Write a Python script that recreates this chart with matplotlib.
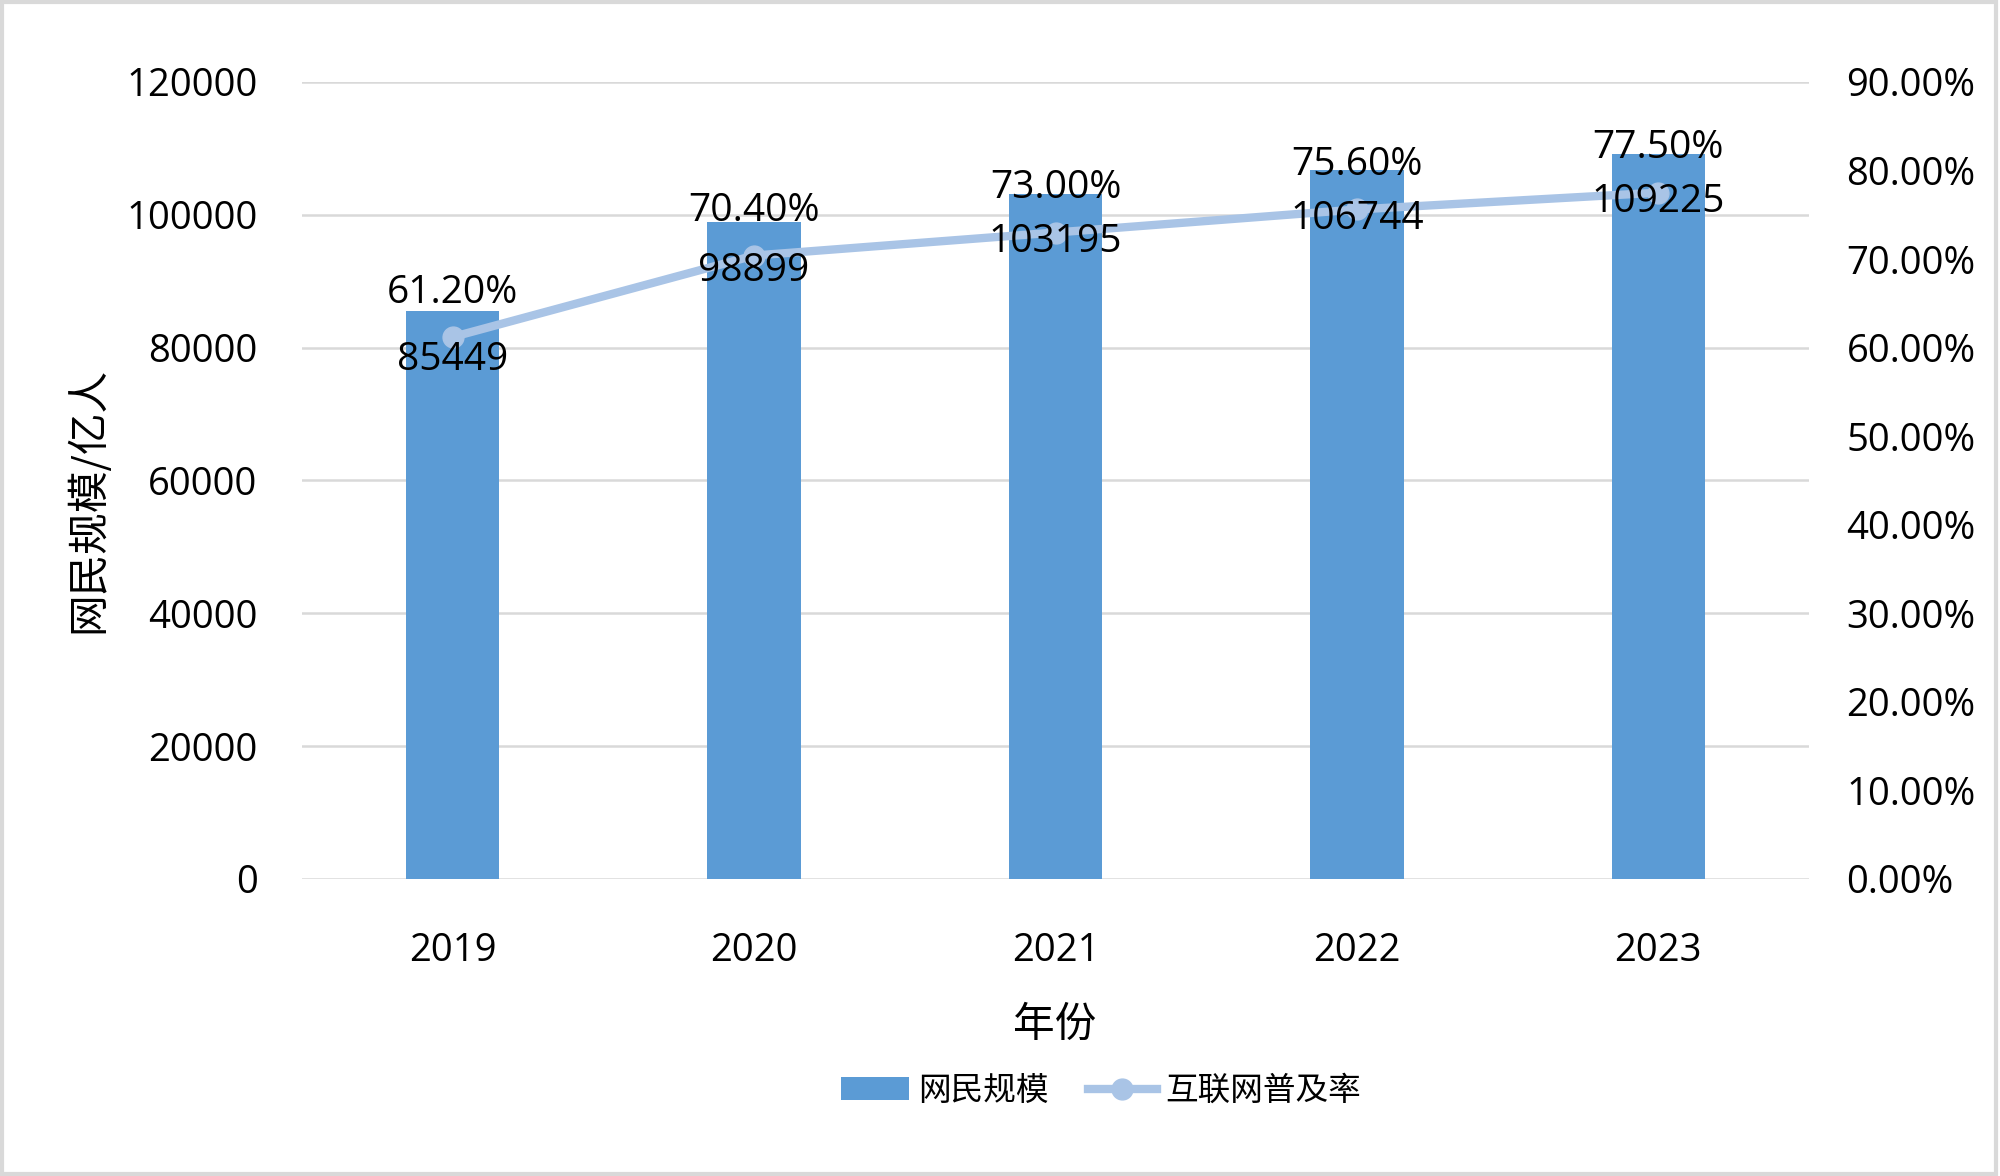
import matplotlib
matplotlib.use('Agg')
import matplotlib.pyplot as plt
from matplotlib.patches import Patch, Rectangle
from matplotlib.lines import Line2D
from matplotlib.ticker import FuncFormatter

plt.rcParams['font.family'] = ['Open Sans', 'Noto Sans CJK SC', 'DejaVu Sans']

years = ['2019', '2020', '2021', '2022', '2023']
netizens = [85449, 98899, 103195, 106744, 109225]
penetration = [0.612, 0.704, 0.730, 0.756, 0.775]

BAR = '#5b9bd5'
LINE = '#a9c4e6'
GRID = '#d9d9d9'
CJK = ['Noto Sans CJK SC', 'DejaVu Sans']

fig = plt.figure(figsize=(20, 11.76), dpi=100)
ax = fig.add_axes([0.151, 0.2526, 0.7535, 0.6777])
ax2 = ax.twinx()

x = list(range(len(years)))
ax.bar(x, netizens, width=0.31, color=BAR, zorder=2)
ax.set_xlim(-0.5, len(years) - 0.5)
ax.set_ylim(0, 120000)
ax.set_yticks(range(0, 120001, 20000))
ax.grid(axis='y', color=GRID, linewidth=1.8, zorder=0)
ax.set_axisbelow(True)
ax.set_xticks(x)
ax.set_xticklabels(years)
ax.tick_params(axis='both', length=0, labelsize=27.5)
ax.tick_params(axis='y', pad=32)
ax.tick_params(axis='x', pad=38)

ax2.plot(x, penetration, color=LINE, linewidth=6, marker='o', markersize=15,
         markerfacecolor=LINE, markeredgecolor=LINE, zorder=3)
ax2.set_ylim(0, 0.9)
ax2.set_yticks([i / 10 for i in range(10)])
ax2.yaxis.set_major_formatter(FuncFormatter(lambda v, _: f'{v * 100:.2f}%'))
ax2.tick_params(axis='y', length=0, labelsize=27.5, pad=27)

for a in (ax, ax2):
    for s in a.spines.values():
        s.set_visible(False)

# data labels
for xi, v in zip(x, netizens):
    ax2.annotate(f'{v}', xy=(xi, v / 120000 * 0.9), xytext=(0, -35),
                 textcoords='offset points', ha='center', va='center',
                 fontsize=28, color='black', zorder=5)
for xi, p in zip(x, penetration):
    ax2.annotate(f'{p * 100:.2f}%', xy=(xi, p), xytext=(0, 32),
                 textcoords='offset points', ha='center', va='center',
                 fontsize=28, color='black', zorder=5)

fig.text(1055 / 2000, 1 - 1025 / 1176, '年份', ha='center', va='center',
         fontsize=30, family=CJK)
fig.text(88 / 2000, 1 - 500 / 1176, '网民规模/亿人', ha='center', va='center',
         rotation=90, fontsize=30, family=CJK)

handles = [
    Patch(facecolor=BAR, edgecolor='none', label='网民规模'),
    Line2D([0], [0], color=LINE, linewidth=6, marker='o', markersize=15,
           markerfacecolor=LINE, markeredgecolor=LINE, label='互联网普及率'),
]
fig.legend(handles=handles, loc='center', bbox_to_anchor=(1101 / 2000, 1 - 1091 / 1176),
           ncol=2, frameon=False, prop={'family': CJK, 'size': 23.5},
           handlelength=2.1, handletextpad=0.28, columnspacing=1.2)

fig.patches.append(Rectangle((0.001, 0.002), 0.997, 0.996, transform=fig.transFigure,
                             fill=False, edgecolor=GRID, linewidth=3))

fig.savefig('out.png', dpi=100, facecolor='white')
